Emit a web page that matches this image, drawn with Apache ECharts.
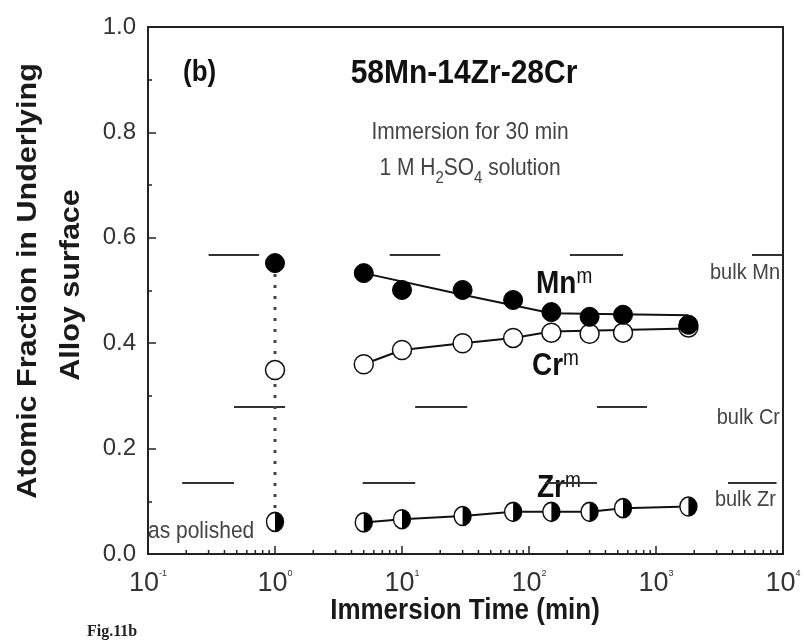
<!DOCTYPE html>
<html><head><meta charset="utf-8">
<script src="https://cdn.jsdelivr.net/npm/echarts@6/dist/echarts.min.js"></script>
<style>html,body{margin:0;padding:0;background:#fff}#c{width:804px;height:643px}</style>
</head><body><div id="c"></div>
<script>
// ---- data ----
const timesMin = [5, 10, 30, 75, 150, 300, 550, 1800];
const mnValues = [0.533, 0.501, 0.501, 0.482, 0.459, 0.450, 0.454, 0.435];
const crValues = [0.360, 0.387, 0.400, 0.410, 0.420, 0.418, 0.420, 0.430];
const zrValues = [0.060, 0.066, 0.072, 0.080, 0.080, 0.080, 0.087, 0.090];
const polishedTime = 1;
const polishedMn = 0.552;
const polishedCr = 0.349;
const polishedZr = 0.061;
const mnFitTimes = [5, 30, 150, 1800];
const mnFitValues = [0.533, 0.492, 0.457, 0.453];
const crFitTimes = [5, 10, 30, 75, 150, 1800];
const crFitValues = [0.360, 0.387, 0.400, 0.410, 0.422, 0.428];
const bulkMn = 0.567;
const bulkCr = 0.279;
const bulkZr = 0.135;
const bulkMnSegments = [[0.3, 0.75], [8, 20], [210, 550], [5700, 10000]];
const bulkCrSegments = [[0.475, 1.2], [12.7, 32.6], [343, 850]];
const bulkZrSegments = [[0.186, 0.475], [4.9, 12.7], [134, 343], [3690, 8900]];
const xDecadeExps = [-1, 0, 1, 2, 3, 4];

const FONT = '"Liberation Sans", Arial, sans-serif';
const zip = (xs, ys) => xs.map((x, i) => [x, ys[i]]);
const segs = (list, y) => list.map(s => ({ coords: [[s[0], y], [s[1], y]] }));
const minorTicks = [];
for (let e = xDecadeExps[0]; e < xDecadeExps[xDecadeExps.length - 1]; e++) {
  for (let k = 2; k <= 9; k++) minorTicks.push([k * Math.pow(10, e), 0]);
}
const chart = echarts.init(document.getElementById('c'), null, { renderer: 'canvas' });
const halfDisk = 'path://M0,0 A10,10 0 0,1 0,20 Z';
const SY = 1.12;
const supText = (x, y, base) => ({
  type: 'text', x: x, y: y, scaleY: SY, style: {
    text: '{b|' + base + '}{s|m}', textAlign: 'left', textVerticalAlign: 'middle',
    rich: { b: { fontSize: 28, fontWeight: 'bold', fontFamily: FONT, fill: '#111', lineHeight: 32, verticalAlign: 'middle' },
            s: { fontSize: 19, fontFamily: FONT, fill: '#111', lineHeight: 18, verticalAlign: 'top' } } }
});
const grayText = (x, y, t, align, size) => ({
  type: 'text', x: x, y: y, scaleY: SY, style: { text: t, font: size + 'px ' + FONT, fill: '#444', textAlign: align, textVerticalAlign: 'middle' }
});

const option = {
  backgroundColor: '#fff',
  animation: false,
  grid: { left: 148, right: 21, top: 27, bottom: 89, show: true, borderColor: '#222', borderWidth: 2, outerBoundsMode: 'none' },
  xAxis: {
    type: 'log', logBase: 10, min: 0.1, max: 10000,
    axisLine: { lineStyle: { color: '#222', width: 2 } },
    axisTick: { inside: true, length: 8, lineStyle: { color: '#222', width: 1.5 } },
    splitLine: { show: false },
    axisLabel: {
      margin: 15,
      formatter: v => '{b|10}{s|' + Math.round(Math.log10(v)) + '}',
      rich: {
        b: { fontSize: 27, fontFamily: FONT, color: '#333', lineHeight: 30, verticalAlign: 'middle' },
        s: { fontSize: 9, fontFamily: FONT, color: '#333', lineHeight: 12, verticalAlign: 'top' }
      }
    }
  },
  yAxis: {
    type: 'value', min: 0, max: 1, interval: 0.2,
    axisLine: { lineStyle: { color: '#222', width: 2 } },
    axisTick: { inside: true, length: 8, lineStyle: { color: '#222', width: 1.5 } },
    minorTick: { show: true, splitNumber: 2, length: 4, lineStyle: { color: '#222', width: 1.5 } },
    splitLine: { show: false },
    axisLabel: { margin: 12, fontSize: 24, fontFamily: FONT, color: '#333', formatter: v => v.toFixed(1) }
  },
  series: [
    { type: 'custom', name: 'minor', coordinateSystem: 'cartesian2d', data: minorTicks, silent: true, z: 5,
      renderItem: (params, api) => {
        const p = api.coord([api.value(0), api.value(1)]);
        return { type: 'line', shape: { x1: p[0], y1: p[1], x2: p[0], y2: p[1] - 4 }, style: { stroke: '#222', lineWidth: 1.5 } };
      } },
    { type: 'lines', coordinateSystem: 'cartesian2d', data: segs(bulkMnSegments, bulkMn), lineStyle: { color: '#333', width: 2, opacity: 1 }, z: 1 },
    { type: 'lines', coordinateSystem: 'cartesian2d', data: segs(bulkCrSegments, bulkCr), lineStyle: { color: '#333', width: 2, opacity: 1 }, z: 1 },
    { type: 'lines', coordinateSystem: 'cartesian2d', data: segs(bulkZrSegments, bulkZr), lineStyle: { color: '#333', width: 2, opacity: 1 }, z: 1 },
    { type: 'line', name: 'as polished', data: [[polishedTime, polishedMn], [polishedTime, polishedCr], [polishedTime, polishedZr]],
      showSymbol: false, lineStyle: { color: '#444', width: 3, type: [3, 8] }, z: 1 },
    { type: 'line', name: 'Mn fit', data: zip(mnFitTimes, mnFitValues), showSymbol: false, lineStyle: { color: '#111', width: 2 }, z: 2 },
    { type: 'line', name: 'Cr fit', data: zip(crFitTimes, crFitValues), showSymbol: false, lineStyle: { color: '#111', width: 2 }, z: 2 },
    { type: 'line', name: 'Zr', data: zip(timesMin, zrValues), showSymbol: false, lineStyle: { color: '#111', width: 2 }, z: 2 },
    { type: 'scatter', name: 'Cr', data: zip(timesMin, crValues).concat([[polishedTime, polishedCr]]), symbol: 'circle', symbolSize: 19,
      itemStyle: { color: '#fff', borderColor: '#111', borderWidth: 1.5, opacity: 1 }, z: 3 },
    { type: 'scatter', name: 'Mn', data: zip(timesMin, mnValues).concat([[polishedTime, polishedMn]]), symbol: 'circle', symbolSize: 19,
      itemStyle: { color: '#000', borderColor: '#000', borderWidth: 1, opacity: 1 }, z: 4 },
    { type: 'scatter', name: 'Zr open', data: zip(timesMin, zrValues).concat([[polishedTime, polishedZr]]), symbol: 'circle', symbolSize: [17, 19],
      itemStyle: { color: '#fff', borderColor: '#111', borderWidth: 1.5, opacity: 1 }, z: 3 },
    { type: 'scatter', name: 'Zr half', data: zip(timesMin, zrValues).concat([[polishedTime, polishedZr]]), symbol: halfDisk, symbolSize: [8.5, 19], symbolOffset: [4.25, 0],
      itemStyle: { color: '#000', opacity: 1 }, z: 4 }
  ],
  graphic: [
    { type: 'text', x: 29, y: 281, rotation: Math.PI / 2, scaleX: 1.13, style: { text: 'Atomic Fraction in Underlying', font: 'bold 27px ' + FONT, fill: '#1a1a1a', textAlign: 'center', textVerticalAlign: 'middle' } },
    { type: 'text', x: 72, y: 285, rotation: Math.PI / 2, scaleX: 1.13, style: { text: 'Alloy surface', font: 'bold 27px ' + FONT, fill: '#1a1a1a', textAlign: 'center', textVerticalAlign: 'middle' } },
    { type: 'text', x: 465, y: 611, scaleY: SY, style: { text: 'Immersion Time (min)', font: 'bold 26px ' + FONT, fill: '#1a1a1a', textAlign: 'center', textVerticalAlign: 'middle' } },
    { type: 'text', x: 87, y: 632, style: { text: 'Fig.11b', font: 'bold 16px "Liberation Serif", "DejaVu Serif", serif', fill: '#222', textAlign: 'left', textVerticalAlign: 'middle' } },
    { type: 'text', x: 183, y: 73, scaleY: SY, style: { text: '(b)', font: 'bold 26px ' + FONT, fill: '#111', textAlign: 'left', textVerticalAlign: 'middle' } },
    { type: 'text', x: 464, y: 74, scaleY: SY, style: { text: '58Mn-14Zr-28Cr', font: 'bold 30px ' + FONT, fill: '#111', textAlign: 'center', textVerticalAlign: 'middle' } },
    grayText(470, 133, 'Immersion for 30 min', 'center', 21),
    { type: 'text', x: 470, y: 169, scaleY: SY, style: {
        text: '{n|1 M H}{sub|2}{n|SO}{sub|4}{n| solution}', textAlign: 'center', textVerticalAlign: 'middle',
        rich: { n: { fontSize: 21, fontFamily: FONT, fill: '#444', lineHeight: 32, verticalAlign: 'middle' },
                sub: { fontSize: 15, fontFamily: FONT, fill: '#444', lineHeight: 15, verticalAlign: 'bottom' } } } },
    supText(536, 284, 'Mn'),
    supText(532, 366, 'Cr'),
    supText(537, 488, 'Zr'),
    grayText(780, 273, 'bulk Mn', 'right', 20),
    grayText(780, 418, 'bulk Cr', 'right', 20),
    grayText(776, 500, 'bulk Zr', 'right', 20),
    grayText(148, 532, 'as polished', 'left', 21)
  ]
};
chart.setOption(option);
</script>
</body></html>
